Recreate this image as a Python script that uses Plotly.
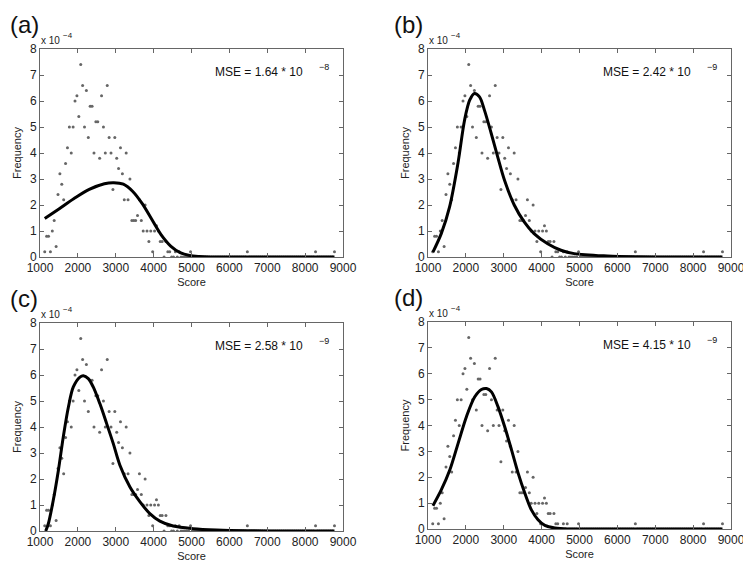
import plotly.graph_objects as go

# ---------------- data (frequency values in units of 1e-4) ----------------
score_bins = [1125 + 50 * i for i in range(154)]  # bin centres 1125 ... 8775

freq_head = [0.2, 0.8, 0.8, 0.2, 1.0, 1.4, 0.4, 2.4, 3.2, 2.8,
             2.2, 3.6, 4.2, 5.0, 4.0, 5.0, 6.0, 6.2, 5.4, 7.4,
             6.6, 5.0, 6.4, 4.6, 5.8, 5.8, 4.0, 5.2, 5.2, 3.8,
             6.2, 5.0, 4.0, 6.6, 4.6, 4.0, 2.6, 4.6, 3.8, 3.4,
             4.2, 3.2, 2.2, 4.0, 2.2, 3.0, 1.4, 1.4, 1.4, 1.6,
             2.2, 1.4, 1.0, 2.0, 1.0, 0.6, 1.0, 0.2, 1.0, 1.2,
             1.0, 0.6, 0.6, 0.0, 0.6, 0.2, 0.2, 0.0, 0.0, 0.2,
             0.0, 0.2]                      # 1125 ... 4675
# sparse non-zero bins in the long tail (everything else is 0)
tail_nonzero = {4975: 0.2, 6475: 0.2, 8275: 0.2, 8775: 0.2}

frequency = []
for i, s in enumerate(score_bins):
    if i < len(freq_head):
        frequency.append(freq_head[i])
    else:
        frequency.append(tail_nonzero.get(s, 0.0))

# fitted curves (x, y in 1e-4)
fit_a_x = [1125, 1500, 1900, 2300, 2700, 2950, 3200, 3450, 3700, 3950, 4200, 4450, 4700, 4950, 5200, 5500, 6000, 7000, 8775]
fit_a_y = [1.48, 1.85, 2.25, 2.60, 2.82, 2.86, 2.80, 2.52, 2.05, 1.45, 0.85, 0.42, 0.17, 0.06, 0.02, 0.0, 0.0, 0.0, 0.0]

fit_b_x = [1130, 1350, 1570, 1790, 1965, 2100, 2225, 2360, 2490, 2670, 2840, 3020, 3280, 3540, 3800, 4160, 4510, 4860, 5740, 6500, 7500, 8775]
fit_b_y = [0.19, 0.90, 1.93, 3.60, 5.26, 6.03, 6.29, 6.16, 5.65, 4.75, 3.85, 2.95, 1.99, 1.35, 0.90, 0.51, 0.26, 0.13, 0.04, 0.01, 0.0, 0.0]

fit_c_x = [1150, 1220, 1350, 1485, 1615, 1750, 1880, 2055, 2145, 2275, 2405, 2580, 2760, 2935, 3110, 3375, 3640, 3900, 4165, 4515, 5045, 5660, 6500, 7500, 8775]
fit_c_y = [0.0, 0.28, 1.18, 2.33, 3.62, 4.77, 5.54, 5.92, 5.97, 5.86, 5.54, 4.90, 4.13, 3.36, 2.53, 1.69, 1.12, 0.67, 0.38, 0.19, 0.09, 0.04, 0.01, 0.0, 0.0]

fit_d_x = [1130, 1350, 1575, 1795, 2015, 2235, 2410, 2545, 2675, 2850, 3025, 3205, 3380, 3555, 3730, 3905, 4085, 4350, 4700, 5500, 7000, 8775]
fit_d_y = [0.90, 1.51, 2.28, 3.31, 4.34, 5.11, 5.39, 5.43, 5.30, 4.72, 3.95, 3.06, 2.16, 1.39, 0.74, 0.36, 0.14, 0.04, 0.0, 0.0, 0.0, 0.0]

panel_labels = ["(a)", "(b)", "(c)", "(d)"]
mse_mantissa = ["1.64", "2.42", "2.58", "4.15"]
mse_exponent = ["\u22128", "\u22129", "\u22129", "\u22129"]
x_ticks = [1000, 2000, 3000, 4000, 5000, 6000, 7000, 8000, 9000]
y_ticks = [0, 1, 2, 3, 4, 5, 6, 7, 8]

# ---------------- figure ----------------
# the page body has a default 8px margin, so the figure is drawn 8px in from
# the top-left; the pixel boxes below are in figure coordinates (window - 8).
OFF = 8
W, H = 743, 557
FONT = "Liberation Sans, Arial, sans-serif"

# plot-area boxes in window pixels: (left, right, top, bottom)
boxes_win = [(40, 343, 49, 257), (428, 731, 49, 257),
             (40, 343, 323, 531), (428, 731, 322, 529)]
boxes = [(l - OFF, r - OFF, t - OFF, b - OFF) for (l, r, t, b) in boxes_win]
fits = [(fit_a_x, fit_a_y), (fit_b_x, fit_b_y), (fit_c_x, fit_c_y), (fit_d_x, fit_d_y)]

fig = go.Figure()
layout = dict(width=W, height=H, margin=dict(l=0, r=0, t=0, b=0, pad=0, autoexpand=False),
              paper_bgcolor="white", plot_bgcolor="white", showlegend=False,
              font=dict(family=FONT, size=11, color="#222"))
annotations = []

for k in range(4):
    l, r, t, b = boxes[k]
    xa = "x" if k == 0 else f"x{k+1}"
    ya = "y" if k == 0 else f"y{k+1}"
    xkey = "xaxis" if k == 0 else f"xaxis{k+1}"
    ykey = "yaxis" if k == 0 else f"yaxis{k+1}"

    fig.add_trace(go.Scatter(x=score_bins, y=frequency, mode="markers",
                             marker=dict(size=3, color="#666666", symbol="circle"),
                             xaxis=xa, yaxis=ya, hoverinfo="skip"))
    fx, fy = fits[k]
    fig.add_trace(go.Scatter(x=fx, y=fy, mode="lines",
                             line=dict(color="black", width=3, shape="spline", smoothing=0.9),
                             xaxis=xa, yaxis=ya, hoverinfo="skip"))

    axis_common = dict(showline=True, mirror="ticks", linecolor="#666", linewidth=1,
                       ticks="inside", ticklen=4, tickcolor="#666", showgrid=False,
                       zeroline=False, automargin=False, ticklabeloverflow="allow",
                       tickfont=dict(size=12, family=FONT, color="#222"))
    layout[xkey] = dict(domain=[l / W, r / W], anchor=ya, range=[1000, 9000],
                        tickvals=x_ticks, ticktext=[str(v) for v in x_ticks],
                        title=dict(text="Score", standoff=3, font=dict(size=11)),
                        **axis_common)
    layout[ykey] = dict(domain=[1 - b / H, 1 - t / H], anchor=xa, range=[0, 8],
                        tickvals=y_ticks, ticktext=[str(v) for v in y_ticks],
                        title=dict(text="Frequency", standoff=6, font=dict(size=11)),
                        **axis_common)

    # panel letter
    annotations.append(dict(text=panel_labels[k], xref="paper", yref="paper",
                            x=max(l - 36, 0) / W, y=1 - max(t - 40, 0) / H,
                            xanchor="left", yanchor="top",
                            showarrow=False, font=dict(size=24, family=FONT, color="#111")))
    # x 10^-4 scale label
    annotations.append(dict(text="x 10", xref="paper", yref="paper",
                            x=(l - 1) / W, y=1 - (t - 1) / H, xanchor="left", yanchor="bottom",
                            showarrow=False, font=dict(size=10, family=FONT, color="#222")))
    annotations.append(dict(text="\u22124", xref="paper", yref="paper",
                            x=(l + 21) / W, y=1 - (t - 7) / H, xanchor="left", yanchor="bottom",
                            showarrow=False, font=dict(size=8, family=FONT, color="#222")))
    # MSE text
    annotations.append(dict(text=f"MSE = {mse_mantissa[k]} * 10", xref="paper", yref="paper",
                            x=(r - 38) / W, y=1 - (t + 23) / H, xanchor="right", yanchor="middle",
                            showarrow=False, font=dict(size=12, family=FONT, color="#111")))
    annotations.append(dict(text=mse_exponent[k], xref="paper", yref="paper",
                            x=(r - 26) / W, y=1 - (t + 18) / H, xanchor="left", yanchor="middle",
                            showarrow=False, font=dict(size=9, family=FONT, color="#111")))

layout["annotations"] = annotations
fig.update_layout(**layout)
fig.write_html("out.html")
